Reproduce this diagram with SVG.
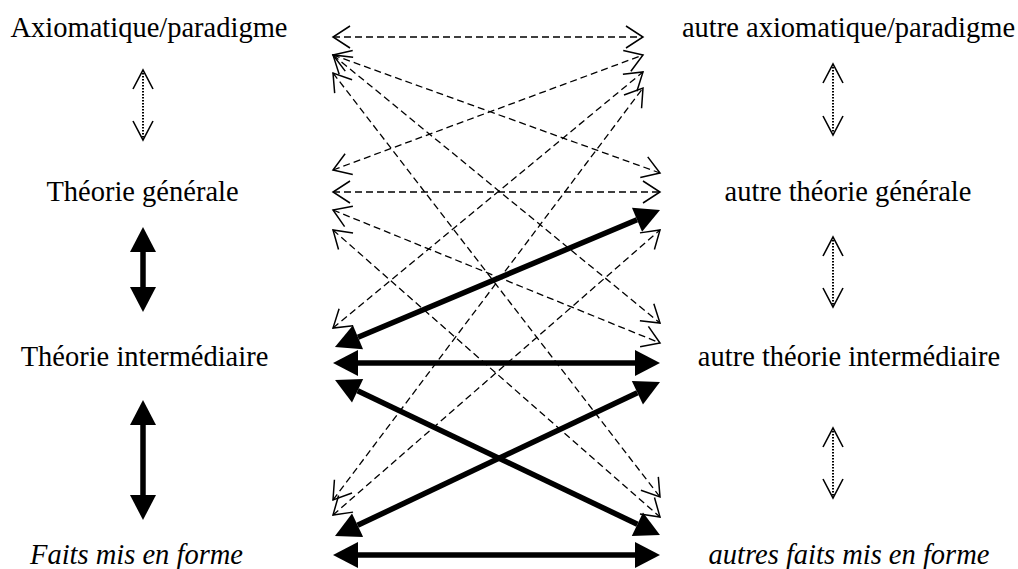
<svg xmlns="http://www.w3.org/2000/svg" width="1018" height="569" viewBox="0 0 1018 569">
<style>
  text { font-family: "Liberation Serif", "Times New Roman", serif; font-size: 28.5px; fill: #000; text-anchor: middle; }
  .it { font-style: italic; }
  .dash { stroke: #000; stroke-width: 1.3; stroke-dasharray: 7 4; fill: none; marker-start: url(#open); marker-end: url(#open); }
  .dot { stroke: #000; stroke-width: 2; stroke-dasharray: 1.5 1.5; fill: none; marker-start: url(#openV); marker-end: url(#openV); }
  .thick { stroke: #000; stroke-width: 5.5; fill: none; marker-start: url(#solid); marker-end: url(#solid); }
</style>
<defs>
  <marker id="open" markerUnits="userSpaceOnUse" viewBox="-20 -14 24 28" markerWidth="24" markerHeight="28" refX="0" refY="0" orient="auto-start-reverse" overflow="visible">
    <path d="M-17,-11 L0,0 L-17,11" fill="none" stroke="#000" stroke-width="1.5"/>
  </marker>
  <marker id="openV" markerUnits="userSpaceOnUse" viewBox="-22 -14 26 28" markerWidth="26" markerHeight="28" refX="0" refY="0" orient="auto-start-reverse" overflow="visible">
    <path d="M-19,-10 L0,0 L-19,10" fill="none" stroke="#000" stroke-width="1.6"/>
  </marker>
  <marker id="solid" markerUnits="userSpaceOnUse" viewBox="-2 -14 30 28" markerWidth="30" markerHeight="28" refX="0" refY="0" orient="auto-start-reverse" overflow="visible">
    <path d="M25,0 L0,-13 L0,13 Z" fill="#000" stroke="none"/>
  </marker>
</defs>

<g id="node-axiomatique"><text x="149" y="37">Axiomatique/paradigme</text></g>
<g id="node-theorie-generale"><text x="142.5" y="201">Théorie générale</text></g>
<g id="node-theorie-intermediaire"><text x="144.5" y="366">Théorie intermédiaire</text></g>
<g id="node-faits"><text class="it" x="136.5" y="564">Faits mis en forme</text></g>

<g id="node-autre-axiomatique"><text x="848.5" y="37">autre axiomatique/paradigme</text></g>
<g id="node-autre-theorie-generale"><text x="848" y="201">autre théorie générale</text></g>
<g id="node-autre-theorie-intermediaire"><text x="849" y="366">autre théorie intermédiaire</text></g>
<g id="node-autres-faits"><text class="it" x="849" y="564">autres faits mis en forme</text></g>

<g id="connectors">
  <!-- vertical left -->
  <line class="dot" x1="143" y1="70" x2="143" y2="140"/>
  <line class="thick" x1="143" y1="252" x2="143" y2="287"/>
  <line class="thick" x1="143" y1="425" x2="143" y2="495"/>
  <!-- vertical right -->
  <line class="dot" x1="833" y1="64" x2="833" y2="135"/>
  <line class="dot" x1="833" y1="237" x2="833" y2="307"/>
  <line class="dot" x1="833" y1="428" x2="833" y2="498"/>

  <!-- dashed cross links -->
  <line class="dash" x1="333" y1="37" x2="643" y2="37"/>
  <line class="dash" x1="333" y1="55" x2="660" y2="173"/>
  <line class="dash" x1="333" y1="55" x2="660" y2="323"/>
  <line class="dash" x1="333" y1="73" x2="660" y2="497"/>
  <line class="dash" x1="333" y1="170" x2="643" y2="55"/>
  <line class="dash" x1="333" y1="192" x2="660" y2="192"/>
  <line class="dash" x1="333" y1="210" x2="660" y2="343"/>
  <line class="dash" x1="333" y1="230" x2="660" y2="517"/>
  <line class="dash" x1="333" y1="328" x2="643" y2="72"/>
  <line class="dash" x1="333" y1="500" x2="643" y2="88"/>
  <line class="dash" x1="333" y1="515" x2="660" y2="230"/>

  <!-- thick links -->
  <line class="thick" x1="358" y1="363" x2="635" y2="363"/>
  <line class="thick" x1="358" y1="555" x2="635" y2="555"/>
  <line class="thick" x1="358" y1="337.3" x2="637" y2="219.7"/>
  <line class="thick" x1="357.6" y1="390.8" x2="637.4" y2="524.2"/>
  <line class="thick" x1="357.6" y1="525.3" x2="637.4" y2="392.7"/>
</g>
</svg>
